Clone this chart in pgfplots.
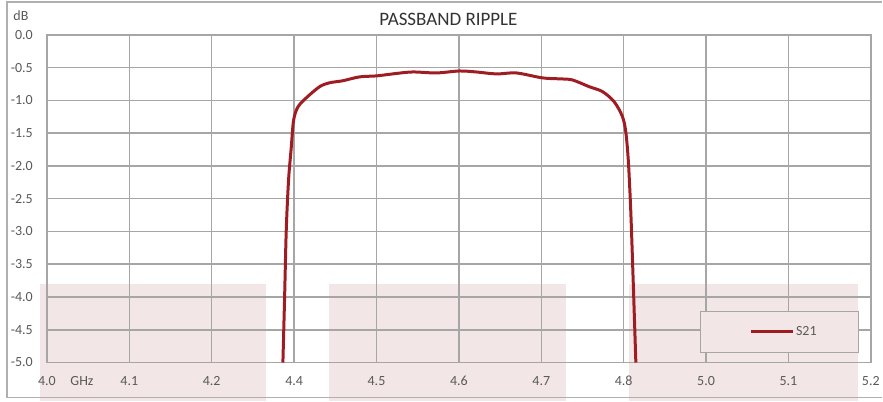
\documentclass[border=0pt]{standalone}
\usepackage{fontspec}
\setmainfont{Carlito}
\usepackage{pgfplots}
\pgfplotsset{compat=1.18}
\definecolor{curvered}{HTML}{9E1C22}
\definecolor{gridgray}{HTML}{A6A6A6}
\definecolor{bandpink}{HTML}{F2E6E7}
\definecolor{labelgray}{HTML}{595959}
\definecolor{framegray}{HTML}{B0B0B0}
\pgfplotsset{set layers}

\begin{document}
\begin{tikzpicture}[x=1pt,y=1pt]
\begin{axis}[
  scale only axis,
  width=825pt, height=328pt,
  xmin=0, xmax=10, ymin=-5, ymax=0,
  xtick={0,...,10},
  xticklabels={4.0,4.1,4.2,4.4,4.5,4.6,4.7,4.8,5.0,5.1,5.2},
  ytick={-5,-4.5,...,0},
  yticklabel style={/pgf/number format/fixed, /pgf/number format/fixed zerofill,
    /pgf/number format/precision=1},
  /pgf/number format/assume math mode=true,
  ticklabel style={font=\fontsize{14}{16}\selectfont, text=labelgray},
  xticklabel style={anchor=base, yshift=-23pt},
  yticklabel style={anchor=east, inner sep=0pt, xshift=-14pt},
  major tick length=0pt,
  grid=major,
  grid style={gridgray, line width=1.5pt},
  axis line style={gridgray, line width=1.5pt},
  clip=false,
  legend style={draw=none, fill=none, at={(rel axis cs:0.852,0.0945)}, anchor=west,
    inner sep=0pt, font=\fontsize{14}{16}\selectfont, text=labelgray},
  legend image code/.code={\draw[#1] (0pt,0pt) -- (42pt,0pt);},
]
\begin{pgfonlayer}{axis background}
  \fill[bandpink] (axis cs:-0.085,-5.59) rectangle (axis cs:2.663,-3.80);
  \fill[bandpink] (axis cs:3.418,-5.59) rectangle (axis cs:6.299,-3.80);
  \fill[bandpink] (axis cs:7.067,-5.59) rectangle (axis cs:9.846,-3.80);
\end{pgfonlayer}
\draw[gridgray, fill=bandpink, line width=1.5pt] (rel axis cs:0.793,0.03) rectangle (rel axis cs:0.985,0.155);
\addplot[curvered, line width=3pt, smooth] coordinates {
  (2.864,-5.0) (2.885,-3.99) (2.905,-2.97) (2.933,-2.21) (2.966,-1.71)
  (2.994,-1.30) (3.046,-1.10) (3.148,-0.96) (3.309,-0.79) (3.430,-0.73)
  (3.588,-0.70) (3.794,-0.64) (4.000,-0.625) (4.194,-0.595) (4.436,-0.565)
  (4.727,-0.58) (5.006,-0.55) (5.212,-0.565) (5.455,-0.595) (5.697,-0.58)
  (6.012,-0.655) (6.218,-0.67) (6.376,-0.686) (6.582,-0.79) (6.743,-0.865)
  (6.885,-1.02) (6.985,-1.245) (7.027,-1.49) (7.058,-1.95) (7.087,-2.71)
  (7.115,-3.73) (7.148,-5.0)
};
\addlegendentry{S21}
\end{axis}
\node[font=\fontsize{14}{16}\selectfont, text=labelgray, anchor=base west] at (20pt,-23pt) {GHz};
\node[font=\fontsize{14}{16}\selectfont, text=labelgray] at (-26pt,347pt) {dB};
\node[font=\fontsize{19}{22}\selectfont, text=black!80] at (402pt,344pt) {PASSBAND RIPPLE};
\draw[framegray, line width=1.5pt] (836pt,361pt) -- (-40pt,361pt) -- (-40pt,-35pt) -- (836pt,-35pt);
\path (-47pt,-39pt) rectangle (836pt,363pt);
\end{tikzpicture}
\end{document}
